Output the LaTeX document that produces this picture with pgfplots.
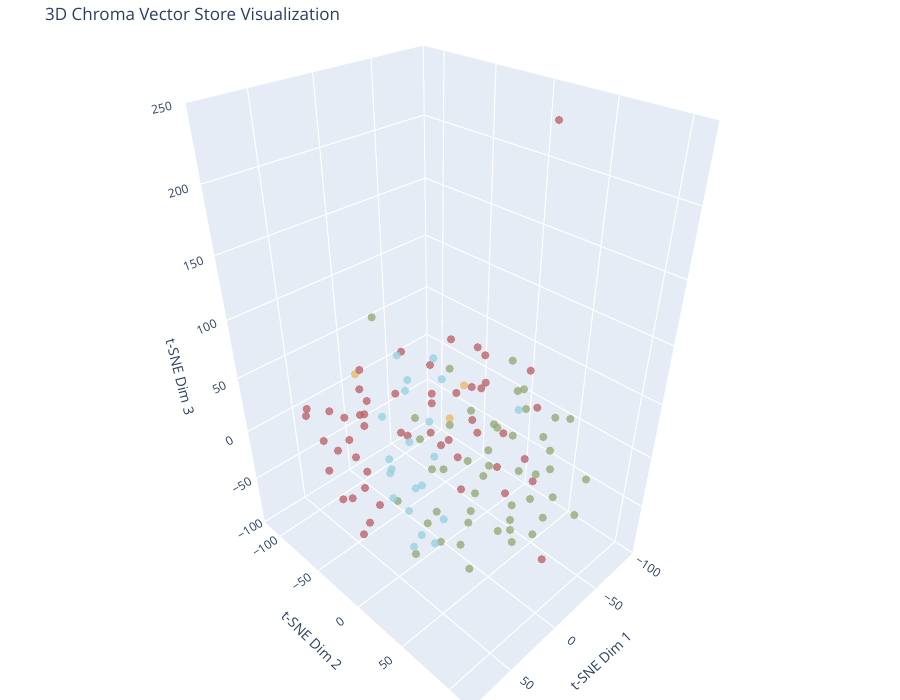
\documentclass[border=0pt]{standalone}
\usepackage{fontspec}
\setmainfont{Open Sans}
\usepackage{pgfplots}
\pgfplotsset{compat=1.18}
\definecolor{wall}{RGB}{229,236,246}
\definecolor{txt}{RGB}{42,63,95}
\definecolor{cr}{RGB}{188,101,104}
\definecolor{cg}{RGB}{152,171,120}
\definecolor{cb}{RGB}{153,210,225}
\definecolor{cy}{RGB}{233,186,111}
\tikzset{gridl/.style={white, line width=1.1pt},
  tk/.style={text=txt, font=\fontsize{12}{14}\selectfont, inner sep=0pt},
  ttl/.style={text=txt, font=\fontsize{14}{16}\selectfont, inner sep=0pt}}
\newcommand{\gl}[4]{\addplot[gridl] coordinates {(#1,#2) (#3,#4)};}

% screen positions (px) of the markers as seen in the chart
\pgfplotstableread{
x y
559 120
451 339.3
401 351.7
430 365
359.3 370
359.3 389.3
395.3 393.7
431.7 393.7
477.7 347.3
485.3 355.3
530.7 370.7
471.7 387
485.7 382.7
481.3 388.3
456.3 393
431.7 403.3
366.7 401
306.7 409
306 416
329.3 411.3
344.3 417.7
360 415
364.3 414.3
364.3 426
401 432.7
407.7 435.7
430.7 432.7
441 445.2
448.7 440
323.7 441
349.3 440
338 450.7
356 457.3
329.3 470.7
367.3 471.7
537.3 407.7
472.3 420
477.3 432.7
503.3 433.3
457.7 457.3
524.7 459
497 467
532.7 481.3
365 488
343.3 499.3
352.7 498.3
380 505
461 489.3
370 522.7
364 534.3
505 493.3
541.7 559.3
}\redpts
\pgfplotstableread{
x y
371.7 317.3
449.7 368.7
512.7 360.7
517.7 391
524 389.3
415 418
449.7 425
420 439.3
432 469.3
443.5 469.3
526 409
555.3 417.7
570.3 419
471 410.7
494 424.3
497.3 427.7
512.7 435.7
543.3 437
488.3 450.3
550 450.7
467.7 461
489 465.7
518.7 471
535.7 474.3
550 469.3
483.3 476
586 479.5
397.7 501
436.7 511.7
427.7 523.3
440.8 541.8
460.5 544.7
416 554
475 493.3
530 499
552.7 497.3
511.7 505.3
470.7 511
468.3 522.7
510 520
542.7 517.7
574.3 515
497.7 531
510 530
532.3 534.3
511.7 542
469.3 568.7
}\greenpts
\pgfplotstableread{
x y
396.7 355.3
433.3 358.3
407.3 380
441.7 379.3
405 390.8
382 416.7
429.3 421.7
409.3 442
389.3 459.3
434.3 456.7
391.7 469.3
390.3 473.3
518.7 410
422 485.5
415.7 488.3
393.3 498.3
409 511
443.7 519.3
421.7 535
435 543.3
414 546.7
}\bluepts
\pgfplotstableread{
x y
355 374.3
464 385.3
449.7 418.3
}\yellowpts

\begin{document}
\begin{tikzpicture}
\begin{axis}[scale only axis, width=900pt, height=700pt,
  xmin=0, xmax=900, ymin=0, ymax=700, y dir=reverse,
  axis lines=none, clip=false]
% walls
\addplot[fill=wall, draw=none] coordinates {(423.3,45) (185,102.7) (264.5,521.8) (428,421)} -- cycle;
\addplot[fill=wall, draw=none] coordinates {(423.3,45) (720,120) (632.7,553) (428,421)} -- cycle;
\addplot[fill=wall, draw=none] coordinates {(428,421) (264.5,521.8) (461,700) (479.6,700) (632.7,553)} -- cycle;
% left wall grid
\gl{371}{57.3}{391}{443}
\gl{312.7}{72.3}{350}{470}
\gl{247.3}{87.7}{305}{497}
\gl{200.7}{184.3}{424}{115}
\gl{213.3}{256}{425}{178}
\gl{226}{320.7}{425.5}{235}
\gl{237.7}{378.3}{426.7}{286.7}
\gl{247.3}{431.7}{427.2}{334.3}
\gl{256.7}{478.3}{427.7}{379}
% right wall grid
\gl{424}{115}{702.7}{206}
\gl{425}{178}{687.7}{280}
\gl{425.5}{235}{674}{346}
\gl{426.7}{286.7}{662.3}{405}
\gl{427.2}{334.3}{651.7}{458.3}
\gl{427.7}{379}{641.7}{506.7}
\gl{444}{51}{441.5}{429.5}
\gl{496}{64.3}{483}{456}
\gl{554.3}{79.3}{525}{483.5}
\gl{619.3}{95.7}{568.5}{511}
\gl{694}{114.3}{615}{541.5}
% floor grid
\gl{391}{443}{595}{588.3}
\gl{350}{470}{555}{628.3}
\gl{305}{497}{510}{670}
\gl{441.5}{429.5}{280.3}{536}
\gl{483}{456}{318.3}{570.4}
\gl{525}{483.5}{358.3}{607}
\gl{568.5}{511}{402}{647}
\gl{615}{541.5}{449.5}{689.5}
% box edges
\addplot[white, line width=1pt] coordinates {(185,102.7) (423.3,45) (720,120)};
\addplot[white, line width=1pt] coordinates {(423.3,45) (428,421)};
\addplot[white, line width=1pt] coordinates {(264.5,521.8) (428,421) (632.7,553)};
\addplot[white, line width=0.8pt] coordinates {(185,102.7) (264.5,521.8)};
\addplot[white, line width=0.8pt] coordinates {(720,120) (632.7,553)};
% markers
\addplot[only marks, mark=*, mark size=4.1pt, color=cy, mark options={draw opacity=0, fill opacity=0.8}] table {\yellowpts};
\addplot[only marks, mark=*, mark size=4.1pt, color=cr, mark options={draw opacity=0, fill opacity=0.8}] table {\redpts};
\addplot[only marks, mark=*, mark size=4.1pt, color=cg, mark options={draw opacity=0, fill opacity=0.8}] table {\greenpts};
\addplot[only marks, mark=*, mark size=4.1pt, color=cb, mark options={draw opacity=0, fill opacity=0.8}] table {\bluepts};
% z ticks
\node[tk, rotate=13.6] at (axis cs:161.7,108.3) {250};
\node[tk, rotate=16.9] at (axis cs:178.3,191.7) {200};
\node[tk, rotate=20] at (axis cs:193.3,264) {150};
\node[tk, rotate=23] at (axis cs:206.7,327.3) {100};
\node[tk, rotate=25.9] at (axis cs:219.3,387.7) {50};
\node[tk, rotate=28.4] at (axis cs:229.3,440.7) {0};
\node[tk, rotate=30.1] at (axis cs:241.7,486) {−50};
\node[tk, rotate=31.8] at (axis cs:250,529.3) {−100};
% y (Dim 2) ticks
\node[tk, rotate=33.4] at (axis cs:265,546.7) {−100};
\node[tk, rotate=34.8] at (axis cs:301.7,581.7) {−50};
\node[tk, rotate=36.7] at (axis cs:340,621.7) {0};
\node[tk, rotate=39.2] at (axis cs:385.7,663.3) {50};
% x (Dim 1) ticks
\node[tk, rotate=-32.9] at (axis cs:648.3,566.7) {−100};
\node[tk, rotate=-35.4] at (axis cs:613.3,601.7) {−50};
\node[tk, rotate=-37.6] at (axis cs:571.7,640.7) {0};
\node[tk, rotate=-40] at (axis cs:527.3,683.3) {50};
% axis titles
\node[ttl, rotate=-75.5] at (axis cs:180,377) {t-SNE Dim 3};
\node[ttl, rotate=-44] at (axis cs:311.7,640.7) {t-SNE Dim 2};
\node[ttl, rotate=43] at (axis cs:601,661) {t-SNE Dim 1};
% title
\node[anchor=west, text=txt, font=\fontsize{17}{20}\selectfont, inner sep=0pt] at (axis cs:45,14) {3D Chroma Vector Store Visualization};
\end{axis}
\pgfresetboundingbox
\path[use as bounding box] (0,0) rectangle (900pt,700pt);
\end{tikzpicture}
\end{document}
